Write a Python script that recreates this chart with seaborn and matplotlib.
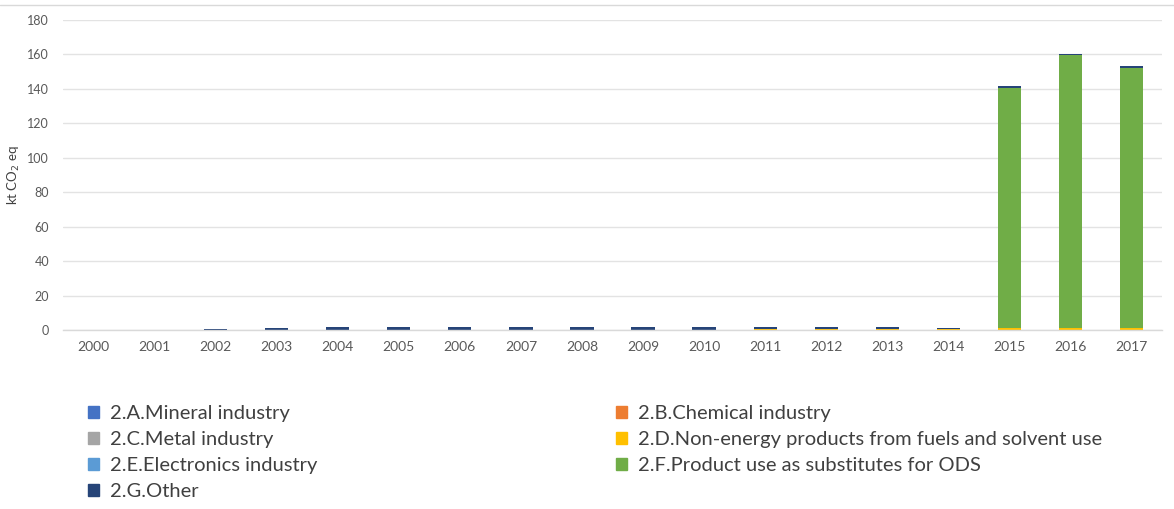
import matplotlib
matplotlib.use("Agg")
import matplotlib.pyplot as plt
import matplotlib.lines as mlines
import matplotlib.patches as mpatches
import numpy as np
import pandas as pd
import seaborn as sns

years = [str(y) for y in range(2000, 2018)]

mineral = [0] * 18
chemical = [0] * 18
metal = [0] * 18
non_energy = [0, 0, 0, 0, 0, 0, 0, 0, 0, 0, 0, 0.3, 0.4, 0.5, 0.8, 0.9, 1.3, 1.3]
electronics = [0] * 18
ods_subst = [0, 0, 0, 0, 0, 0, 0, 0, 0, 0, 0, 0, 0, 0, 0, 139.8, 158.3, 150.6]
other = [0, 0, 0.5, 1.2, 1.9, 1.9, 1.9, 1.9, 1.9, 1.9, 1.9, 1.5, 1.5, 1.4, 0.6, 0.9, 0.8, 1.6]

series_names = [
    "2.A.Mineral industry",
    "2.B.Chemical industry",
    "2.C.Metal industry",
    "2.D.Non-energy products from fuels and solvent use",
    "2.E.Electronics industry",
    "2.F.Product use as substitutes for ODS",
    "2.G.Other",
]
series_values = [mineral, chemical, metal, non_energy, electronics, ods_subst, other]
series_colors = ["#4472C4", "#ED7D31", "#A5A5A5", "#FFC000", "#5B9BD5", "#70AD47", "#264478"]

sns.set_theme(style="white")
plt.rcParams["font.family"] = ["Lato", "DejaVu Sans"]

fig = plt.figure(figsize=(11.74, 5.09), dpi=100)
ax = fig.add_axes([63 / 1174, 1 - 330 / 509, (1162 - 63) / 1174, (330 - 20) / 509])

# stacked bars, one seaborn layer per category
bottom = np.zeros(len(years))
for name, vals, col in zip(series_names, series_values, series_colors):
    df = pd.DataFrame({"year": years, "value": vals})
    sns.barplot(data=df, x="year", y="value", color=col, bottom=bottom,
                width=0.38, ax=ax, linewidth=0, saturation=1, errorbar=None)
    bottom = bottom + np.array(vals)

ax.set_ylim(0, 180)
ax.set_yticks(range(0, 181, 20))
ax.set_xlim(-0.5, len(years) - 0.5)
ax.grid(axis="y", color="#E3E3E3", linewidth=1)
ax.set_axisbelow(True)
for s in ["top", "right", "left"]:
    ax.spines[s].set_visible(False)
ax.spines["bottom"].set_color("#D9D9D9")
ax.spines["bottom"].set_linewidth(1)
ax.tick_params(axis="y", labelsize=9, colors="#595959", length=0, pad=10)
ax.tick_params(axis="x", labelsize=10, colors="#595959", length=0, pad=8)
ax.set_xlabel("")
ax.set_ylabel("kt CO$_2$ eq", fontsize=9.5, color="#404040", labelpad=4)

# chart frame line along the top
fig.add_artist(mlines.Line2D([0, 1], [1 - 5 / 509, 1 - 5 / 509], color="#D9D9D9", linewidth=1))

handles = [mpatches.Patch(color=c, label=n) for n, c in zip(series_names, series_colors)]
order = [0, 2, 4, 6, 1, 3, 5]
leg = fig.legend([handles[i] for i in order], [series_names[i] for i in order],
                 loc="upper left", bbox_to_anchor=(70 / 1174, 1 - 387 / 509),
                 ncol=2, frameon=False, fontsize=14.5, handlelength=0.55, handleheight=0.55,
                 handletextpad=0.55, columnspacing=14.8, labelspacing=0.45,
                 labelcolor="#404040")

fig.savefig("out.png", dpi=100, facecolor="white")
